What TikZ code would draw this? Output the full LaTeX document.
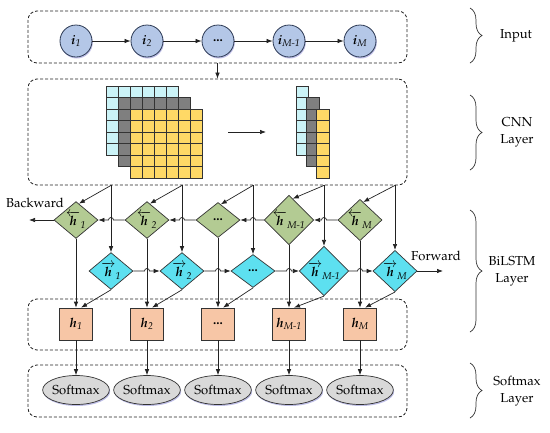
\documentclass[tikz,border=0pt]{standalone}
\usepackage[T1]{fontenc}
\usepackage{mathpazo}
\usepackage{amsmath}
\usepackage{bm}
\usetikzlibrary{arrows.meta,shapes.geometric,shadows,decorations.pathreplacing,calc}
\definecolor{inblue}{HTML}{B4C7E7}
\definecolor{inedge}{HTML}{2E3B55}
\definecolor{bwdgreen}{HTML}{B3CB93}
\definecolor{fwdcyan}{HTML}{5DE0F0}
\definecolor{hpeach}{HTML}{F7C6A6}
\definecolor{smxgray}{HTML}{D9D9D9}
\definecolor{cyancell}{HTML}{CBF3F7}
\definecolor{graycell}{HTML}{7F7F7F}
\definecolor{yellowcell}{HTML}{FFD966}
\definecolor{linecol}{HTML}{222222}
\newcommand{\lsub}[1]{\text{\normalfont\itshape #1}}
\begin{document}
\begin{tikzpicture}[x=1pt,y=-1pt,
  font=\fontsize{13}{17}\selectfont,
  arr/.style={-{Latex[length=6pt,width=4.5pt]}, line width=0.7pt, draw=linecol},
  layerbox/.style={draw=linecol, dash pattern=on 3pt off 2pt, rounded corners=9pt, line width=0.8pt, minimum width=379pt, inner sep=0pt},
  softshadow/.style={drop shadow={shadow xshift=0.8pt, shadow yshift=-1.5pt, opacity=0.35, fill=blue!45!gray}},
  inpnode/.style={circle, draw=inedge, fill=inblue, minimum size=32pt, inner sep=0pt, line width=0.8pt, softshadow},
  bwdnode/.style={diamond, draw=black!80, fill=bwdgreen, minimum width=44pt, minimum height=35pt, inner sep=0pt, line width=0.7pt},
  fwdnode/.style={diamond, draw=black!80, fill=fwdcyan, minimum width=44pt, minimum height=33pt, inner sep=0pt, line width=0.7pt},
  hnode/.style={rectangle, draw=black!80, fill=hpeach, minimum width=33pt, minimum height=32pt, inner sep=0pt, line width=0.7pt},
  smxnode/.style={ellipse, draw=black!80, fill=smxgray, minimum width=65pt, minimum height=29pt, inner sep=0pt, line width=0.7pt, softshadow},
  cellbox/.style={draw=black!80, line width=0.6pt},
  bracestyle/.style={decorate, decoration={brace, amplitude=12pt}, line width=0.7pt, draw=black!80}
]
\useasboundingbox (0,0) rectangle (550,432);

% layer boxes
\node[layerbox, minimum height=52pt] (inbox) at (217.5,37) {};
\node[layerbox, minimum height=106pt] (cnnbox) at (217.5,132) {};
\node[layerbox, minimum height=51pt] (hbox) at (217.5,324.5) {};
\node[layerbox, minimum height=52pt] (smxbox) at (217.5,391) {};

% input nodes
\node[inpnode] (i1) at (76,41) {$\bm{i}_{\lsub{1}}$};
\node[inpnode] (i2) at (147,41) {$\bm{i}_{\lsub{2}}$};
\node[inpnode] (i3) at (218,41) {\textbf{...}};
\node[inpnode] (i4) at (289,41) {$\bm{i}_{\lsub{M-1}}$};
\node[inpnode] (i5) at (360,41) {$\bm{i}_{\lsub{M}}$};
\draw[arr] (i1) -- (i2);
\draw[arr] (i2) -- (i3);
\draw[arr] (i3) -- (i4);
\draw[arr] (i4) -- (i5);
\draw[arr] (inbox.south) -- (cnnbox.north);

% CNN feature maps
\foreach \i in {0,...,5} \foreach \j in {0,...,5}
  \draw[cellbox, fill=cyancell] (106+12*\i, 86+11.5*\j) rectangle ++(12,11.5);
\foreach \i in {0,...,5} \foreach \j in {0,...,5}
  \draw[cellbox, fill=graycell] (118+12*\i, 97.5+11.5*\j) rectangle ++(12,11.5);
\foreach \i in {0,...,5} \foreach \j in {0,...,5}
  \draw[cellbox, fill=yellowcell] (130+12*\i, 109+11.5*\j) rectangle ++(12,11.5);
\foreach \j in {0,...,5}
  \draw[cellbox, fill=cyancell] (296.7, 86+11.5*\j) rectangle ++(11.6,11.5);
\foreach \j in {0,...,5}
  \draw[cellbox, fill=graycell] (306.7, 97.5+11.5*\j) rectangle ++(12.3,11.5);
\foreach \j in {0,...,5}
  \draw[cellbox, fill=yellowcell] (316.7, 109+11.5*\j) rectangle ++(12.6,11.5);
\coordinate (ca) at (228,132);
\coordinate (cb) at (266,132);
\draw[arr] (ca) -- (cb);

% BiLSTM backward
\node[bwdnode] (b1) at (76,220) {$\overleftarrow{\bm{h}}_{\lsub{1}}$};
\node[bwdnode] (b2) at (147,220) {$\overleftarrow{\bm{h}}_{\lsub{2}}$};
\node[bwdnode] (b3) at (218,220) {\textbf{...}};
\node[bwdnode] (b4) at (289,220) {$\overleftarrow{\bm{h}}_{\lsub{M-1}}$};
\node[bwdnode] (b5) at (360,220) {$\overleftarrow{\bm{h}}_{\lsub{M}}$};
% BiLSTM forward
\node[fwdnode] (f1) at (111,271) {$\overrightarrow{\bm{h}}_{\lsub{1}}$};
\node[fwdnode] (f2) at (182,271) {$\overrightarrow{\bm{h}}_{\lsub{2}}$};
\node[fwdnode] (f3) at (253,271) {\textbf{...}};
\node[fwdnode] (f4) at (324,271) {$\overrightarrow{\bm{h}}_{\lsub{M-1}}$};
\node[fwdnode] (f5) at (395,271) {$\overrightarrow{\bm{h}}_{\lsub{M}}$};

% h outputs
\node[hnode] (o1) at (76,324) {$\bm{h}_{\lsub{1}}$};
\node[hnode] (o2) at (147,324) {$\bm{h}_{\lsub{2}}$};
\node[hnode] (o3) at (218,324) {\textbf{...}};
\node[hnode] (o4) at (289,324) {$\bm{h}_{\lsub{M-1}}$};
\node[hnode] (o5) at (360,324) {$\bm{h}_{\lsub{M}}$};

% softmax
\node[smxnode] (s1) at (76,390) {Softmax};
\node[smxnode] (s2) at (147,390) {Softmax};
\node[smxnode] (s3) at (218,390) {Softmax};
\node[smxnode] (s4) at (289,390) {Softmax};
\node[smxnode] (s5) at (360,390) {Softmax};

% CNN -> BiLSTM
\foreach \k in {1,...,5} {
  \draw[arr] (f\k |- cnnbox.south) -- (f\k.north);
  \draw[arr] (f\k |- cnnbox.south) -- (b\k.80);
}

% backward chain with hops
\foreach \k/\p in {5/4,4/3,3/2,2/1}
  \draw[arr] (b\k.west) -- ($(f\p |- b\k)+(2.5,0)$) arc[start angle=0, end angle=180, radius=2.5pt] -- (b\p.east);
\coordinate (bend) at (29,220);
\draw[arr] (b1.west) -- (bend);
\node at (35,203) {Backward};

% forward chain with hops
\foreach \k/\n in {1/2,2/3,3/4,4/5}
  \draw[arr] (f\k.east) -- ($(b\n |- f\k)+(-2.5,0)$) arc[start angle=180, end angle=0, radius=2.5pt] -- (f\n.west);
\coordinate (fend) at (443,271);
\draw[arr] (f5.east) -- (fend);
\node at (436,256) {Forward};

% BiLSTM -> h -> softmax
\foreach \k in {1,...,5} {
  \draw[arr] (b\k.south) -- (o\k.north);
  \draw[arr] (f\k.south) -- ($(o\k.north)+(5,0)$);
  \draw[arr] (o\k.south) -- (s\k.north);
}

% braces and labels
\draw[bracestyle] (470,8) -- (470,63);
\node[align=center] at (516,36) {Input};
\draw[bracestyle] (470,95) -- (470,170);
\node[align=center] at (517,132) {CNN\\Layer};
\draw[bracestyle] (470,210) -- (470,332);
\node[align=center] at (512,271) {BiLSTM\\Layer};
\draw[bracestyle] (470,363) -- (470,418);
\node[align=center] at (517,391) {Softmax\\Layer};
\end{tikzpicture}
\end{document}
